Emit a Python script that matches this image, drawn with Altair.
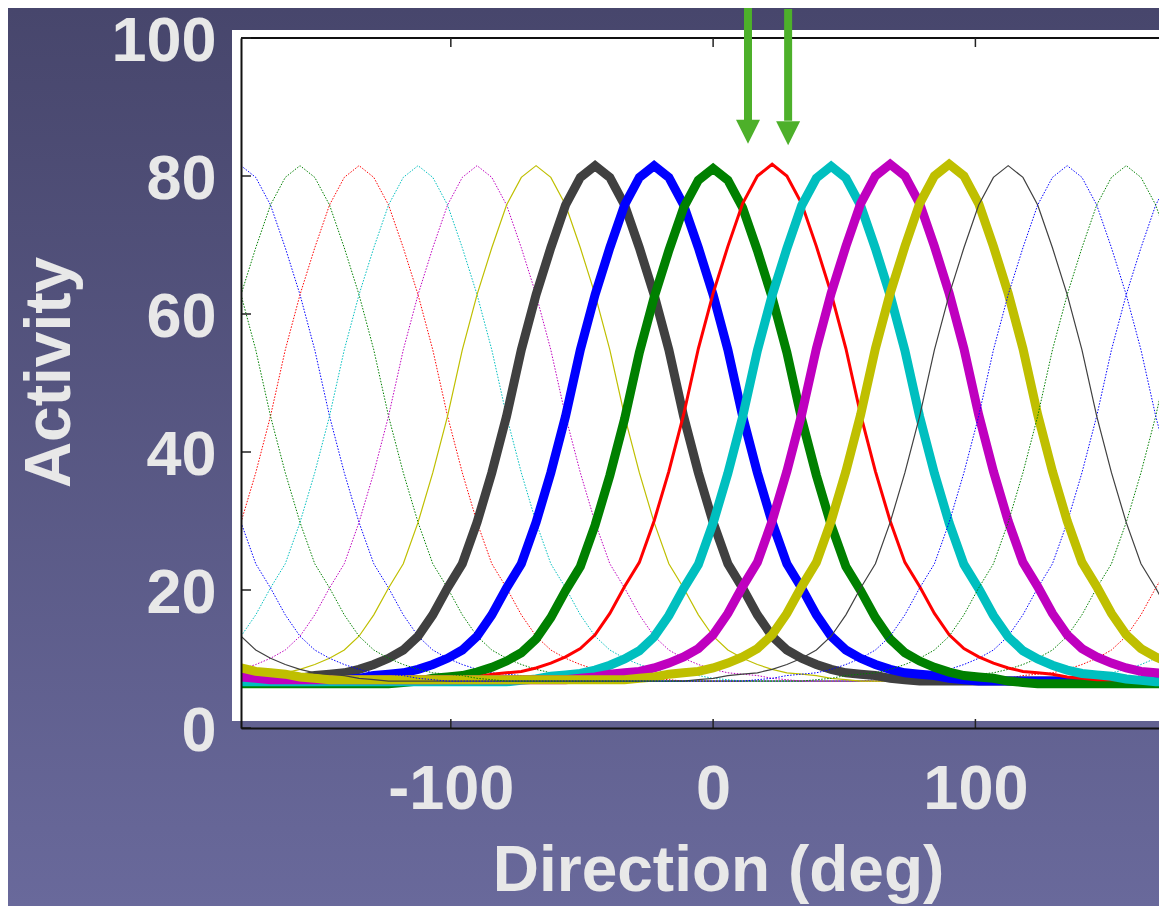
import altair as alt
import pandas as pd

# ---------------- data ----------------
# shared tuning-curve profile: activity vs angular distance from preferred direction
profile_offsets = [0, 5.625, 11.25, 16.875, 22.5, 28.125, 33.75, 39.375, 45.0, 50.625,
                   56.25, 61.875, 67.5, 73.125, 78.75, 84.375, 90.0, 95.625, 101.25,
                   106.875, 112.5, 118.125, 123.75, 129.375, 135.0, 140.625, 146.25,
                   151.875, 157.5, 163.125, 168.75, 174.375, 180.0]
profile_values = [81.5, 79.8, 75.8, 69.6, 62.8, 54.8, 45.2, 37.0, 29.8, 23.8,
                  20.3, 16.4, 13.3, 11.3, 10.1, 9.2, 8.5, 8.0, 7.8,
                  7.6, 7.2, 7.0, 6.8, 6.8, 6.8, 6.8, 6.8,
                  6.8, 6.8, 6.8, 6.8, 6.8, 6.8]

# preferred directions of the 16 neurons, in plotting order
centers = [-180, -157.5, -135, -112.5, -90, -67.5, -45, -22.5,
           0, 22.5, 45, 67.5, 90, 112.5, 135, 157.5]
line_colors = ["#0000ff", "#008000", "#ff0000", "#00bfbf", "#bf00bf", "#bfbf00", "#404040", "#0000ff",
               "#008000", "#ff0000", "#00bfbf", "#bf00bf", "#bfbf00", "#404040", "#0000ff", "#008000"]
line_widths = [1, 1, 1, 1, 1, 1.2, 9, 9, 9, 3, 9, 9, 9, 1.2, 1, 1]
line_dotted = [True, True, True, True, True, False, False, False,
               False, False, False, False, False, False, True, True]
level_shift = [0, 0, 0, 0, 0, 0, 0, 0, -0.4, 0.2, -0.1, 0.2, 0.2, 0, 0, 0]

# sampling grid of directions (deg)
step = 5.625
directions = [-180 + step * k for k in range(65)]

# green arrows at the top
arrow_dirs = [13.3, 28.6]
arrow_top = [104.5, 104.2]
arrow_base = [88.0, 88.0]
arrow_head = [86.4, 86.2]

x_ticks = [-100, 0, 100]
y_ticks = [0, 20, 40, 60, 80, 100]

# ---------------- build table ----------------
rows = []
for i, c in enumerate(centers):
    for d in directions:
        off = abs(((d - c + 180) % 360) - 180)
        idx = int(round(off / step))
        rows.append({"neuron": i, "direction": d,
                     "activity": profile_values[idx] + level_shift[i]})
df = pd.DataFrame(rows)

W, H = 918, 690
TXT = "#e8e8e8"
FONT = "Liberation Sans"

xscale = alt.Scale(domain=[-180, 170], nice=False, zero=False)
yscale = alt.Scale(domain=[0, 100], nice=False, zero=False)

x_axis = alt.Axis(values=x_ticks, labelExpr="'' + datum.value",
                  ticks=False, grid=False,
                  domain=True, domainColor="#111111", domainWidth=2,
                  labelFont=FONT, labelFontWeight="bold", labelFontSize=63, labelColor=TXT,
                  labelPadding=30, labelOverlap=False, labelFlush=False,
                  title="Direction (deg)", titleFont=FONT, titleFontWeight="bold",
                  titleFontSize=64, titleColor=TXT, titleX=477, titleY=162,
                  titleAlign="center", titleBaseline="alphabetic", zindex=1)
y_axis = alt.Axis(values=y_ticks, ticks=False, grid=False,
                  domain=True, domainColor="#111111", domainWidth=2,
                  labelFont=FONT, labelFontWeight="bold", labelFontSize=63, labelColor=TXT,
                  labelPadding=25, labelOverlap=False, labelFlush=False, labelOffset=3,
                  title="Activity", titleFont=FONT, titleFontWeight="bold",
                  titleFontSize=64, titleColor=TXT, titleAngle=270, titleX=-172, titleY=334,
                  titleAlign="center", titleBaseline="alphabetic", zindex=1)

one = pd.DataFrame({"k": [0]})

grad = alt.LinearGradient(gradient="linear",
                          stops=[alt.GradientStop(color="#47466c", offset=0),
                                 alt.GradientStop(color="#69699b", offset=1)],
                          x1=0, x2=0, y1=0, y2=1)
bg = alt.Chart(one).mark_rect(color=grad).encode(
    x=alt.value(-233), x2=alt.value(W), y=alt.value(-30), y2=alt.value(H + 178))

white = alt.Chart(one).mark_rect(color="white").encode(
    x=alt.value(-9), x2=alt.value(W), y=alt.value(-8), y2=alt.value(H - 7))

top_line = alt.Chart(one).mark_rule(color="#111111", strokeWidth=2).encode(
    x=alt.value(0), x2=alt.value(W), y=alt.value(0))

layers = [bg, white]

for i in range(len(centers)):
    mk = dict(color=line_colors[i], strokeWidth=line_widths[i], clip=True)
    if line_dotted[i]:
        mk["strokeDash"] = [1.5, 1.5]
    layer = alt.Chart(df).transform_filter(alt.datum.neuron == i).mark_line(**mk).encode(
        x=alt.X("direction:Q", scale=xscale, axis=x_axis),
        y=alt.Y("activity:Q", scale=yscale, axis=y_axis),
    )
    layers.append(layer)

ytick_df = pd.DataFrame({"v": y_ticks})
xtick_df = pd.DataFrame({"v": x_ticks})
ytk = alt.Chart(ytick_df).mark_rule(color="#222222", strokeWidth=1.5).encode(
    y=alt.Y("v:Q", scale=yscale, axis=y_axis), x=alt.value(0), x2=alt.value(10))
xtk_top = alt.Chart(xtick_df).mark_rule(color="#222222", strokeWidth=1.5).encode(
    x=alt.X("v:Q", scale=xscale, axis=x_axis), y=alt.value(0), y2=alt.value(9))
xtk_bot = alt.Chart(xtick_df).mark_rule(color="#222222", strokeWidth=1.5).encode(
    x=alt.X("v:Q", scale=xscale, axis=x_axis), y=alt.value(H - 9), y2=alt.value(H))

arrow_df = pd.DataFrame({"dir": arrow_dirs, "top": arrow_top, "base": arrow_base, "head": arrow_head})
ARROW = "#4db02a"
shaft = alt.Chart(arrow_df).mark_rule(color=ARROW, strokeWidth=8).encode(
    x=alt.X("dir:Q", scale=xscale, axis=x_axis),
    y=alt.Y("top:Q", scale=yscale, axis=y_axis), y2="base:Q")
head = alt.Chart(arrow_df).mark_point(shape="M-1,-1L1,-1L0,1Z", size=576, filled=True,
                                      color=ARROW, opacity=1, strokeWidth=0).encode(
    x=alt.X("dir:Q", scale=xscale, axis=x_axis),
    y=alt.Y("head:Q", scale=yscale, axis=y_axis))

layers += [top_line, ytk, xtk_top, xtk_bot, shaft, head]

chart = alt.layer(*layers).properties(
    width=W, height=H,
    autosize=alt.AutoSizeParams(type="none"),
    padding={"left": 233, "top": 30, "right": 0, "bottom": 178},
    background="#5a5a88",
).configure_view(stroke="transparent", fill="transparent")

chart.save("out.html", embed_options={"renderer": "svg", "actions": False})
